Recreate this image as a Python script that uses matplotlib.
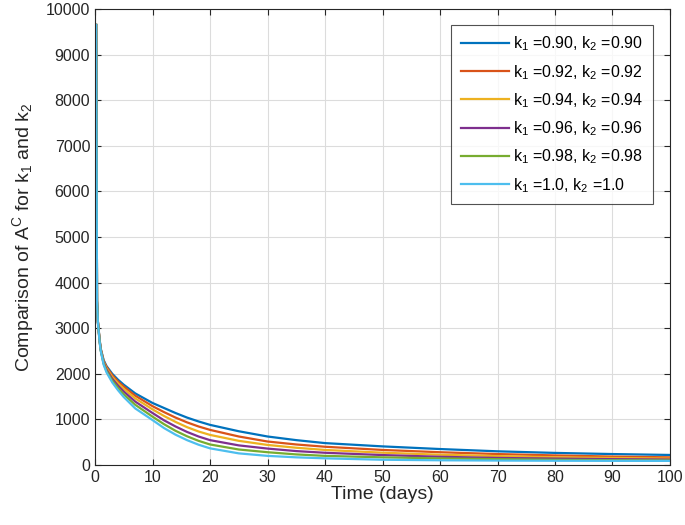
import matplotlib
matplotlib.use("Agg")
import matplotlib.pyplot as plt

time_days = [0.2, 0.35, 0.5, 0.8, 1.0, 1.5, 2, 3, 4, 5, 7, 10, 12, 14, 16, 18, 20, 25, 30, 35, 40, 50, 60, 70, 80, 90, 100]

ac_k090 = [9650, 3600, 3150, 2750, 2550, 2300, 2170, 2000, 1870, 1760, 1570, 1360, 1250, 1140, 1040, 955, 880, 740, 625, 545, 480, 408, 350, 300, 265, 240, 220]
ac_k092 = [9650, 3600, 3150, 2740, 2540, 2280, 2150, 1970, 1830, 1720, 1520, 1290, 1160, 1040, 935, 845, 770, 625, 515, 450, 400, 330, 280, 240, 210, 185, 168]
ac_k094 = [9650, 3600, 3140, 2730, 2530, 2260, 2120, 1930, 1790, 1670, 1460, 1220, 1075, 945, 830, 735, 660, 530, 440, 378, 330, 270, 225, 195, 170, 155, 140]
ac_k096 = [9650, 3600, 3140, 2720, 2520, 2240, 2090, 1890, 1740, 1610, 1390, 1140, 980, 845, 725, 625, 545, 430, 360, 305, 268, 218, 180, 155, 140, 128, 118]
ac_k098 = [9650, 3600, 3130, 2710, 2510, 2220, 2060, 1850, 1690, 1550, 1320, 1060, 895, 750, 630, 530, 450, 340, 280, 232, 200, 168, 145, 128, 115, 106, 100]
ac_k100 = [9650, 3600, 3130, 2700, 2500, 2200, 2030, 1810, 1640, 1490, 1240, 985, 810, 665, 545, 445, 365, 255, 200, 168, 146, 115, 103, 97, 93, 91, 90]

series = [ac_k090, ac_k092, ac_k094, ac_k096, ac_k098, ac_k100]
labels = ["k$_1$ =0.90, k$_2$ =0.90", "k$_1$ =0.92, k$_2$ =0.92", "k$_1$ =0.94, k$_2$ =0.94",
          "k$_1$ =0.96, k$_2$ =0.96", "k$_1$ =0.98, k$_2$ =0.98", "k$_1$ =1.0, k$_2$ =1.0"]
colors = ["#0072BD", "#D95319", "#EDB120", "#7E2F8E", "#77AC30", "#4DBEEE"]

plt.rcParams['font.family'] = ['Liberation Sans', 'DejaVu Sans']
plt.rcParams['mathtext.fontset'] = 'custom'
plt.rcParams['mathtext.rm'] = 'Liberation Sans'
plt.rcParams['mathtext.it'] = 'Liberation Sans:italic'

fig = plt.figure(figsize=(6.85, 5.25), dpi=100)
ax = fig.add_axes([0.1387, 0.1143, 0.8394, 0.8686])

for y, lab, c in zip(series, labels, colors):
    ax.plot(time_days, y, color=c, lw=1.6, label=lab)

ax.set_xlim(0, 100)
ax.set_ylim(0, 10000)
ax.set_xticks(range(0, 101, 10))
ax.set_yticks(range(0, 10001, 1000))
ax.grid(True, color='#dcdcdc', lw=0.8)
ax.set_axisbelow(True)
ax.tick_params(direction='in', top=True, right=True, labelsize=11.5, colors='#262626', length=4)
for s in ax.spines.values():
    s.set_color('#262626')
    s.set_linewidth(0.8)

ax.set_xlabel("Time (days)", fontsize=14, color='#262626', labelpad=1)
ax.set_ylabel("Comparison of A$^{\\mathrm{C}}$ for k$_1$ and k$_2$", fontsize=14, color='#262626', labelpad=7)

leg = ax.legend(loc='upper right', bbox_to_anchor=(0.9704, 0.965), borderaxespad=0,
                fontsize=11.5, frameon=True, fancybox=False, edgecolor='#262626',
                handlelength=3.0, handletextpad=0.3, labelspacing=0.6, borderpad=0.6)
leg.get_frame().set_linewidth(0.8)

fig.savefig("out.png", dpi=100)
